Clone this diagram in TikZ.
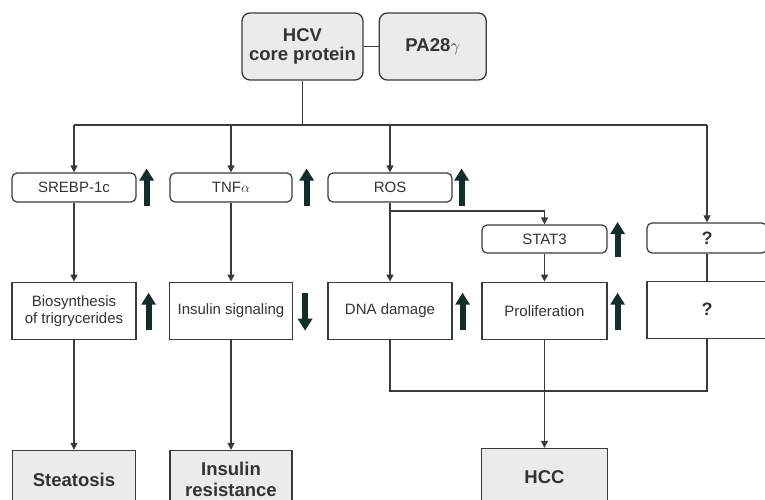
\documentclass[tikz,border=0pt]{standalone}
\usepackage{fontspec}
\setmainfont{Liberation Sans}
\usepackage{xcolor}
\usepackage{tikz}
\usetikzlibrary{arrows.meta, positioning, calc}

\definecolor{edge}{HTML}{3A3A3A}
\definecolor{boxgrey}{HTML}{EBEBEB}
\definecolor{txt}{HTML}{333333}
\definecolor{mark}{HTML}{152D28}

\begin{document}
\begin{tikzpicture}[
    x=1pt, y=-1pt,
    topbox/.style={draw=edge, line width=1.3pt, rounded corners=8pt, fill=boxgrey,
                   align=center, text=txt, font=\fontsize{18.5}{19.5}\selectfont\bfseries},
    factor/.style={draw=edge, line width=1.2pt, rounded corners=5pt, fill=white,
                   minimum height=29pt, text=txt, font=\fontsize{15}{17}\selectfont},
    effect/.style={draw=edge, line width=1.2pt, fill=white, minimum height=57pt,
                   align=center, text=txt, font=\fontsize{15}{17}\selectfont},
    disease/.style={draw=edge, line width=1.6pt, fill=boxgrey, minimum height=58pt,
                    align=center, text=txt, font=\fontsize{18.5}{20.5}\selectfont\bfseries},
    arr/.style={-{Triangle[length=7pt, width=7pt]}, draw=edge, line width=1.2pt},
    wire/.style={draw=edge, line width=1.2pt},
    bigarr/.style={draw=mark, line width=6pt, -{Triangle[length=12pt, width=14pt]}}
  ]
  \useasboundingbox (0,0) rectangle (765,499);

  % source
  \node[topbox, minimum width=121pt, minimum height=67pt] (hcv) at (302.5,46.5)
    {HCV\\core protein};
  \node[topbox, minimum width=107pt, minimum height=67pt, right=15pt of hcv] (pa28)
    {PA28{\mdseries\color{mark!70!olive}$\gamma$}};
  \draw[wire] (hcv.east) -- (pa28.west);

  % first level
  \node[factor, minimum width=124pt] (srebp) at (74,187.5)  {SREBP-1c};
  \node[factor, minimum width=122pt] (tnf)   at (231,187.5) {TNF$\alpha$};
  \node[factor, minimum width=124pt] (ros)   at (390,187.5) {ROS};
  \node[factor, minimum width=125pt, minimum height=28pt] (stat3) at (544.5,239) {STAT3};
  \node[factor, minimum width=120pt, minimum height=30pt, font=\fontsize{18}{20}\selectfont\bfseries]
    (unk) at (707,238) {?};

  % second level
  \node[effect, minimum width=124pt, below=79pt of srebp] (biosyn)
    {Biosynthesis\\of trigrycerides};
  \node[effect, minimum width=123pt, below=79pt of tnf] (insig) {Insulin signaling};
  \node[effect, minimum width=124pt, below=79pt of ros] (dna) {DNA damage};
  \node[effect, minimum width=125pt, below=28pt of stat3] (prolif) {Proliferation};
  \node[effect, minimum width=120pt, below=27pt of unk,
        font=\fontsize{18}{20}\selectfont\bfseries] (unkeff) {?};

  % outcomes
  \node[disease, minimum width=123pt, below=110pt of biosyn] (steat) {Steatosis};
  \node[disease, minimum width=122pt, below=110pt of insig] (insres) {Insulin\\resistance};
  \node[disease, minimum width=126pt, below=108pt of prolif] (hcc) {HCC};

  % bus from core protein
  \coordinate (bus) at (0,125);
  \draw[wire] (hcv.south) -- (hcv.south |- bus);
  \draw[wire] (srebp.north |- bus) -- (unk.north |- bus);
  \draw[arr] (srebp.north |- bus) -- (srebp.north);
  \draw[arr] (tnf.north |- bus) -- (tnf.north);
  \draw[arr] (ros.north |- bus) -- (ros.north);
  \draw[arr] (unk.north |- bus) -- (unk.north);

  % down the columns
  \draw[arr] (srebp) -- (biosyn);
  \draw[arr] (biosyn) -- (steat);
  \draw[arr] (tnf) -- (insig);
  \draw[arr] (insig) -- (insres);
  \draw[arr] (ros) -- (dna);
  \coordinate (fork) at (0,211);
  \draw[arr] (ros.south |- fork) -- (stat3.north |- fork) -- (stat3.north);
  \draw[arr] (stat3) -- (prolif);
  \draw[wire] (unk) -- (unkeff);

  % merge into HCC
  \coordinate (merge) at (0,391);
  \draw[wire] (dna.south) -- (dna.south |- merge) -- (unkeff.south |- merge) -- (unkeff.south);
  \draw[arr] (prolif) -- (hcc);

  % up / down marks
  \draw[bigarr] ($(srebp.east)+(10pt,-18pt)$) -- ($(srebp.east)+(10pt,19pt)$);
  \draw[bigarr] ($(tnf.east)+(14pt,-18pt)$) -- ($(tnf.east)+(14pt,19pt)$);
  \draw[bigarr] ($(ros.east)+(9pt,-18pt)$) -- ($(ros.east)+(9pt,19pt)$);
  \draw[bigarr] ($(stat3.east)+(10pt,-18pt)$) -- ($(stat3.east)+(10pt,17pt)$);
  \draw[bigarr] ($(biosyn.east)+(12pt,-19pt)$) -- ($(biosyn.east)+(12pt,18pt)$);
  \draw[bigarr] ($(insig.east)+(12pt,18pt)$) -- ($(insig.east)+(12pt,-20pt)$);
  \draw[bigarr] ($(dna.east)+(10pt,-19pt)$) -- ($(dna.east)+(10pt,18pt)$);
  \draw[bigarr] ($(prolif.east)+(10pt,-19pt)$) -- ($(prolif.east)+(10pt,18pt)$);
\end{tikzpicture}
\end{document}
